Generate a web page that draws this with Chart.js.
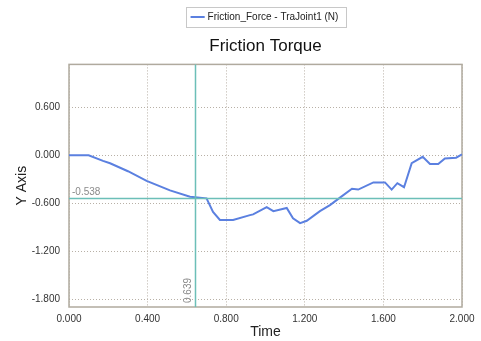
<!DOCTYPE html>
<html><head><meta charset="utf-8">
<script src="https://cdn.jsdelivr.net/npm/chart.js@4.4.1/dist/chart.umd.min.js"></script>
<style>html,body{margin:0;padding:0;background:#fff}#c{display:block}</style>
</head><body>
<canvas id="c" width="481" height="341"></canvas>
<script>
const timeValues = [0, 0.05, 0.10, 0.173, 0.209, 0.30, 0.395, 0.514, 0.616, 0.70, 0.733, 0.768, 0.835, 0.921, 0.937, 1.006, 1.04, 1.108, 1.14, 1.176, 1.21, 1.277, 1.328, 1.379, 1.44, 1.472, 1.549, 1.608, 1.642, 1.671, 1.705, 1.744, 1.80, 1.837, 1.879, 1.913, 1.97, 2.0];
const frictionValues = [0, 0, 0, -0.07, -0.10, -0.20, -0.32, -0.44, -0.52, -0.54, -0.71, -0.81, -0.81, -0.75, -0.74, -0.65, -0.70, -0.66, -0.79, -0.85, -0.82, -0.70, -0.625, -0.53, -0.42, -0.43, -0.34, -0.34, -0.43, -0.35, -0.40, -0.10, -0.02, -0.11, -0.11, -0.04, -0.03, 0.01];
const yTickValues = [0.6, 0.0, -0.6, -1.2, -1.8];
const xTickValues = [0, 0.4, 0.8, 1.2, 1.6, 2.0];
const cursorX = 0.639;
const cursorY = -0.538;
const seriesLabel = 'Friction_Force - TraJoint1 (N)';
const chartTitle = 'Friction Torque';

const FONT = "'Liberation Sans', Arial, sans-serif";

const framePlugin = {
  id: 'frame',
  afterDraw(chart) {
    const ctx = chart.ctx;
    const lg = chart.legend;
    if (lg && lg.legendHitBoxes && lg.legendHitBoxes.length) {
      const hb = lg.legendHitBoxes[0];
      ctx.save();
      ctx.strokeStyle = '#c8c8c8';
      ctx.lineWidth = 1;
      ctx.strokeRect(Math.round(hb.left - 7) + 0.5, Math.round(hb.top - 5) + 0.5, Math.round(hb.width + 14), Math.round(hb.height + 10));
      ctx.restore();
    }
  },
  beforeDatasetsDraw(chart) {
    const ctx = chart.ctx, a = chart.chartArea;
    ctx.save();
    ctx.strokeStyle = '#b0aa9e';
    ctx.lineWidth = 1.5;
    ctx.strokeRect(a.left, a.top, a.right - a.left, a.bottom - a.top);
    ctx.restore();
  },
  afterDatasetsDraw(chart) {
    const ctx = chart.ctx, a = chart.chartArea;
    const xs = chart.scales.x, ys = chart.scales.y;
    const px = Math.round(xs.getPixelForValue(cursorX)) + 0.5;
    const py = Math.round(ys.getPixelForValue(cursorY)) + 0.5;
    ctx.save();
    ctx.strokeStyle = '#6cbfb8';
    ctx.lineWidth = 1.5;
    ctx.beginPath();
    ctx.moveTo(px, a.top); ctx.lineTo(px, a.bottom);
    ctx.moveTo(a.left, py); ctx.lineTo(a.right, py);
    ctx.stroke();
    ctx.fillStyle = '#8a8a8a';
    ctx.font = '10px ' + FONT;
    ctx.textAlign = 'left';
    ctx.textBaseline = 'bottom';
    ctx.fillText(cursorY.toFixed(3), a.left + 3, py - 1);
    ctx.translate(px - 2, a.bottom - 4);
    ctx.rotate(-Math.PI / 2);
    ctx.textBaseline = 'bottom';
    ctx.fillText(cursorX.toFixed(3), 0, 0);
    ctx.restore();
  }
};

new Chart(document.getElementById('c'), {
  type: 'line',
  data: {
    datasets: [{
      label: seriesLabel,
      data: timeValues.map((t, i) => ({x: t, y: frictionValues[i]})),
      borderColor: '#5b80e0',
      backgroundColor: '#5b80e0',
      borderWidth: 2,
      pointRadius: 0,
      tension: 0,
      fill: false
    }]
  },
  options: {
    responsive: false,
    animation: false,
    devicePixelRatio: 1,
    layout: {padding: {left: 10, right: 19, top: 6, bottom: 0}},
    plugins: {
      legend: {
        display: true,
        position: 'top',
        fullSize: false,
        labels: {
          usePointStyle: true,
          pointStyle: 'line',
          boxWidth: 14,
          boxHeight: 10,
          color: '#222',
          font: {family: FONT, size: 10},
          padding: 6
        }
      },
      title: {
        display: true,
        text: chartTitle,
        weight: 500,
        fullSize: false,
        color: '#111',
        font: {family: FONT, size: 17, weight: 'normal'},
        padding: {top: 4, bottom: 8}
      },
      tooltip: {enabled: false}
    },
    scales: {
      x: {
        type: 'linear',
        min: 0, max: 2,
        afterBuildTicks(s) { s.ticks = xTickValues.map(v => ({value: v})); },
        afterFit(s) { s.height = 34; },
        ticks: {
          color: '#333', font: {family: FONT, size: 10}, padding: 6,
          maxRotation: 0, autoSkip: false,
          callback: v => Number(v).toFixed(3)
        },
        grid: {color: '#b8b0a6', lineWidth: 1, drawTicks: false},
        border: {display: false, dash: [1, 2]},
        title: {display: true, text: 'Time', color: '#222', font: {family: FONT, size: 14}, padding: {top: 0, bottom: 0}}
      },
      y: {
        type: 'linear',
        min: -1.9, max: 1.1375,
        afterBuildTicks(s) { s.ticks = yTickValues.map(v => ({value: v})); },
        afterFit(s) { s.width = 59; },
        ticks: {
          color: '#333', font: {family: FONT, size: 10}, padding: 9,
          autoSkip: false,
          callback: v => Number(v).toFixed(3)
        },
        grid: {color: '#b8b0a6', lineWidth: 1, drawTicks: false},
        border: {display: false, dash: [1, 2]},
        title: {display: true, text: 'Y Axis', color: '#222', font: {family: FONT, size: 14}, padding: {top: 4, bottom: 0}}
      }
    }
  },
  plugins: [framePlugin]
});
</script>
</body></html>
